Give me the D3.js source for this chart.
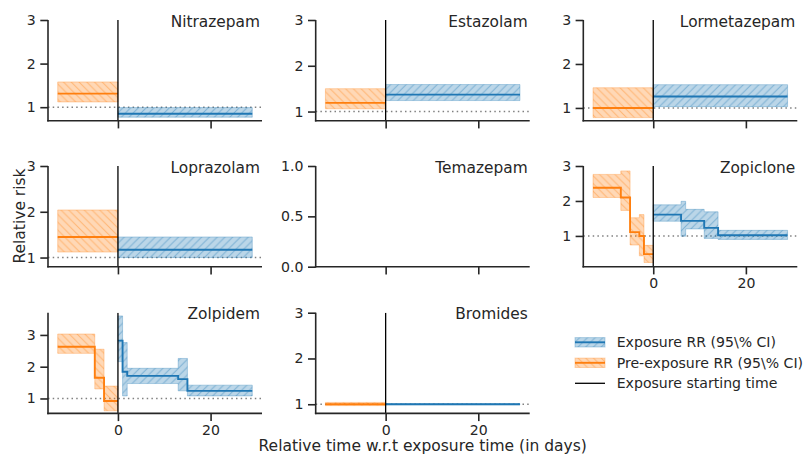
<!DOCTYPE html>
<html lang="en">
<head>
    <meta charset="utf-8" />
    <style>
        body {margin:0; background:#fff;}
        svg {font-family: "DejaVu Sans", sans-serif;}
        text {fill: #262626;}
    </style>
    <script src="https://cdn.jsdelivr.net/npm/d3@7"></script>
</head>
<body>
    <svg></svg>
</body>
<script>
    var width = 809,
        height = 460;

    // rows are [bin start (days), RR, CI low, CI high]
    var preEnd = 0,
        expEnd = 29;

    var drugs = ["Nitrazepam", "Estazolam", "Lormetazepam", "Loprazolam",
                 "Temazepam", "Zopiclone", "Zolpidem", "Bromides"];

    var nitrazepamPre   = [[-13, 1.31, 1.12, 1.58]];
    var nitrazepamExp   = [[0, 0.85, 0.77, 0.99]];
    var estazolamPre    = [[-13, 1.19, 1.06, 1.50]];
    var estazolamExp    = [[0, 1.37, 1.24, 1.59]];
    var lormetazepamPre = [[-13, 1.00, 0.78, 1.46]];
    var lormetazepamExp = [[0, 1.26, 1.03, 1.53]];
    var loprazolamPre   = [[-13, 1.45, 1.12, 2.04]];
    var loprazolamExp   = [[0, 1.17, 1.00, 1.45]];
    var temazepamPre    = [];
    var temazepamExp    = [];
    var zopiclonePre    = [[-13, 2.38, 2.10, 2.76], [-7, 2.10, 1.73, 2.86], [-5, 1.11, 0.74, 1.52],
                           [-3, 1.00, 0.43, 1.61], [-2, 0.48, 0.24, 0.73]];
    var zopicloneExp    = [[0, 1.61, 1.42, 1.89], [6, 1.43, 0.99, 1.99], [7, 1.43, 1.20, 1.76],
                           [11, 1.23, 0.93, 1.69], [14, 1.02, 0.90, 1.16]];
    var zolpidemPre     = [[-13, 2.63, 2.42, 3.03], [-5, 1.65, 1.30, 2.55], [-3, 0.92, 0.61, 1.39]];
    var zolpidemExp     = [[0, 2.82, 2.16, 3.60], [1, 1.84, 1.08, 2.76], [2, 1.71, 1.47, 1.95],
                           [13, 1.61, 1.24, 2.26], [15, 1.24, 1.08, 1.42]];
    var bromidesPre     = [[-13, 1.00, 0.97, 1.04]];
    var bromidesExp     = [[0, 1.00, 0.99, 1.01]];

    var preSeries = [nitrazepamPre, estazolamPre, lormetazepamPre, loprazolamPre,
                     temazepamPre, zopiclonePre, zolpidemPre, bromidesPre];
    var expSeries = [nitrazepamExp, estazolamExp, lormetazepamExp, loprazolamExp,
                     temazepamExp, zopicloneExp, zolpidemExp, bromidesExp];

    // y limits per panel
    var yLimits = [[0.69, 3], [0.80, 3], [0.71, 3], [0.80, 3], [0, 1], [0.12, 3], [0.53, 3.70], [0.80, 3]];
    var yTicks = [1, 2, 3];
    var yTicksEmpty = [0, 0.5, 1];
    var xTicks = [0, 20];
    var xDomain = [-15.1, 31.1];
    var showXLabels = [false, false, false, false, false, true, true, true];

    var legendLabels = ["Exposure RR (95\\% CI)", "Pre-exposure RR (95\\% CI)", "Exposure starting time"];

    var blue = "#1f77b4", orange = "#ff7f0e";
    var colLeft = [48, 315.7, 583.3], rowTop = [20, 166, 312.7];
    var pw = 214, ph = 100.7;
    var dark = "#262626";

    var svg = d3.select("svg").attr("width", width).attr("height", height);

    var defs = svg.append("defs");
    function hatch(id, color, back) {
        var s = 7.75;
        var d = back
            ? "M-1," + (s - 1) + "L1," + (s + 1) + "M0,0L" + s + "," + s + "M" + (s - 1) + ",-1L" + (s + 1) + ",1"
            : "M-1,1L1,-1M0," + s + "L" + s + ",0M" + (s - 1) + "," + (s + 1) + "L" + (s + 1) + "," + (s - 1);
        defs.append("pattern").attr("id", id)
            .attr("patternUnits", "userSpaceOnUse")
            .attr("width", s).attr("height", s)
          .append("path").attr("d", d)
            .attr("stroke", color).attr("stroke-opacity", 0.4)
            .attr("stroke-width", 1).attr("fill", "none");
    }
    hatch("hatchBlue", blue, false);
    hatch("hatchOrange", orange, true);

    drugs.forEach(function(name, i) {
        var c = i % 3, r = Math.floor(i / 3);
        var g = svg.append("g").attr("transform", "translate(" + colLeft[c] + "," + rowTop[r] + ")");

        var x = d3.scaleLinear().domain(xDomain).range([0, pw]);
        var y = d3.scaleLinear().domain(yLimits[i]).range([ph, 0]);

        defs.append("clipPath").attr("id", "clip" + i)
          .append("rect").attr("width", pw).attr("height", ph);

        var plot = g.append("g").attr("clip-path", "url(#clip" + i + ")");
        var empty = preSeries[i].length == 0;

        if (!empty) {
            plot.append("line")
                .attr("x1", 0).attr("x2", pw)
                .attr("y1", y(1)).attr("y2", y(1))
                .attr("stroke", "#808080").attr("stroke-width", 1.5)
                .attr("stroke-dasharray", "1.5,3.2");

            [[preSeries[i], preEnd, orange, "hatchOrange"],
             [expSeries[i], expEnd, blue, "hatchBlue"]].forEach(function(s) {
                var rows = s[0].concat([[s[1]].concat(s[0][s[0].length - 1].slice(1))]);
                var area = d3.area().curve(d3.curveStepAfter)
                    .x(function(d) {return x(d[0])})
                    .y0(function(d) {return y(d[2])})
                    .y1(function(d) {return y(d[3])});
                plot.append("path").attr("d", area(rows))
                    .attr("fill", s[2]).attr("fill-opacity", 0.3)
                    .attr("stroke", s[2]).attr("stroke-opacity", 0.3).attr("stroke-width", 1);
                plot.append("path").attr("d", area(rows))
                    .attr("fill", "url(#" + s[3] + ")");
                var line = d3.line().curve(d3.curveStepAfter)
                    .x(function(d) {return x(d[0])})
                    .y(function(d) {return y(d[1])});
                plot.append("path").attr("d", line(rows))
                    .attr("fill", "none").attr("stroke", s[2]).attr("stroke-width", 1.9);
            });

            plot.append("line")
                .attr("x1", x(0)).attr("x2", x(0))
                .attr("y1", 0).attr("y2", ph)
                .attr("stroke", "#000").attr("stroke-width", 1.3);
        }

        var yAxis = d3.axisLeft(y).tickSize(7.7).tickPadding(4.5)
            .tickValues(empty ? yTicksEmpty : yTicks)
            .tickFormat(empty ? d3.format(".1f") : d3.format("d"));
        var xAxis = d3.axisBottom(x).tickSize(7.7).tickPadding(3.6)
            .tickValues(xTicks)
            .tickFormat(showXLabels[i] ? d3.format("d") : "");

        [g.append("g").call(yAxis),
         g.append("g").attr("transform", "translate(0," + ph + ")").call(xAxis)].forEach(function(a) {
            a.select(".domain").remove();
            a.selectAll(".tick line").attr("stroke", dark).attr("stroke-width", 1.6);
            a.selectAll(".tick text").attr("fill", dark)
                .style("font-size", "14.1px").style("font-family", "DejaVu Sans");
        });

        g.append("line").attr("x1", 0).attr("x2", 0).attr("y1", 0).attr("y2", ph + 0.8)
            .attr("stroke", dark).attr("stroke-width", 1.6);
        g.append("line").attr("x1", -0.8).attr("x2", pw).attr("y1", ph).attr("y2", ph)
            .attr("stroke", dark).attr("stroke-width", 1.6);

        g.append("text")
            .attr("x", pw - 2).attr("y", 6.7)
            .attr("text-anchor", "end")
            .style("font-size", "15.4px")
            .text(name);
    });

    svg.append("text")
        .attr("transform", "translate(25,216) rotate(-90)")
        .attr("text-anchor", "middle")
        .style("font-size", "15.5px")
        .text("Relative risk");

    svg.append("text")
        .attr("x", 422.7).attr("y", 450.5)
        .attr("text-anchor", "middle")
        .style("font-size", "15.5px")
        .text("Relative time w.r.t exposure time (in days)");

    // legend
    var legend = svg.append("g").attr("transform", "translate(575,342.3)");
    [[blue, "hatchBlue"], [orange, "hatchOrange"], [null, null]].forEach(function(s, i) {
        var row = legend.append("g").attr("transform", "translate(0," + (i * 20.5) + ")");
        if (s[0]) {
            row.append("rect").attr("x", 0).attr("y", -4.7).attr("width", 30).attr("height", 9.4)
                .attr("fill", s[0]).attr("fill-opacity", 0.3)
                .attr("stroke", s[0]).attr("stroke-opacity", 0.3);
            row.append("rect").attr("x", 0).attr("y", -4.7).attr("width", 30).attr("height", 9.4)
                .attr("fill", "url(#" + s[1] + ")");
            row.append("line").attr("x1", 0).attr("x2", 30)
                .attr("stroke", s[0]).attr("stroke-width", 1.9);
        } else {
            row.append("line").attr("x1", 0).attr("x2", 30)
                .attr("stroke", "#000").attr("stroke-width", 1.3);
        }
        row.append("text").attr("x", 41.7).attr("y", 5)
            .style("font-size", "14.1px")
            .text(legendLabels[i]);
    });
</script>
</html>
